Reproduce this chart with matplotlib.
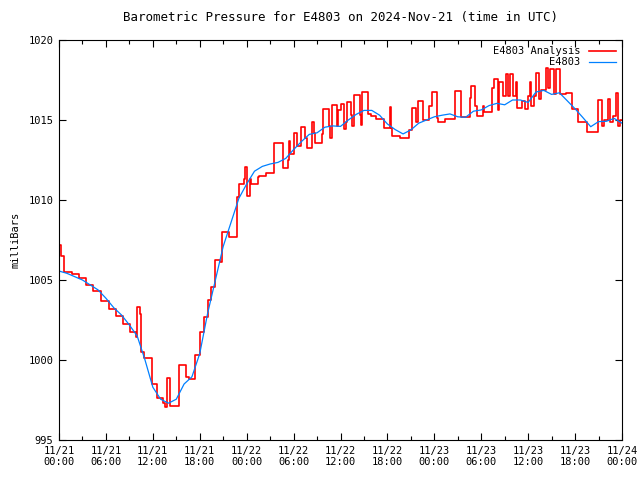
import matplotlib
matplotlib.use('Agg')
import matplotlib.pyplot as plt
import numpy as np

# hours since 2024-11-21 00:00 UTC
hours = np.arange(0, 73)

# E4803 observations (mb), hourly readings
obs = [1005.56, 1005.42, 1005.21, 1005.0, 1004.69, 1004.38, 1003.86, 1003.27, 1002.81, 1002.19,
       1001.5, 1000.0, 998.3, 997.55, 997.3, 997.55, 998.5, 998.95, 1000.4, 1002.9,
       1005.0, 1007.1, 1008.6, 1010.1, 1011.0, 1011.8, 1012.1, 1012.25, 1012.35, 1012.6,
       1013.15, 1013.65, 1014.1, 1014.2, 1014.55, 1014.63, 1014.6, 1015.0, 1015.35, 1015.6,
       1015.6, 1015.3, 1014.75, 1014.4, 1014.13, 1014.38, 1014.8, 1015.0, 1015.2, 1015.3,
       1015.38, 1015.2, 1015.17, 1015.55, 1015.63, 1015.9, 1016.04, 1015.95, 1016.25, 1016.25,
       1016.1, 1016.75, 1016.85, 1016.6, 1016.7, 1016.2, 1015.7, 1015.15, 1014.58, 1014.9,
       1014.92, 1015.1, 1014.8]

# E4803 analysis (mb): times (hours) where the value changes, and the value held after
ana_hours = [0.0, 0.3, 0.6, 1.6, 2.5, 3.4, 4.4, 5.4, 6.4, 7.3,
             8.2, 9.1, 9.8, 9.95, 10.3, 10.5, 10.9, 11.9, 12.5, 13.3,
             13.5, 13.8, 14.2, 15.4, 16.3, 16.6, 17.4, 18.0, 18.6, 19.0,
             19.5, 20.0, 20.6, 20.9, 21.8, 22.7, 23.0, 23.7, 23.85, 24.0,
             24.4, 24.6, 25.4, 25.6, 26.5, 27.5, 28.6, 29.3, 29.45, 29.6,
             30.0, 30.4, 30.9, 31.5, 31.7, 32.3, 32.6, 32.8, 33.6, 33.8,
             34.5, 34.7, 34.9, 35.6, 35.7, 36.0, 36.4, 36.7, 36.8, 37.4,
             37.5, 37.7, 38.5, 38.6, 38.8, 39.5, 39.9, 40.6, 41.6, 42.3,
             42.45, 42.6, 43.6, 44.8, 45.1, 45.6, 45.9, 46.5, 47.3, 47.7,
             48.3, 48.5, 49.4, 50.6, 51.4, 52.6, 52.7, 53.2, 53.4, 54.2,
             54.3, 55.4, 55.6, 56.1, 56.3, 56.8, 57.2, 57.4, 57.7, 58.0,
             58.4, 58.6, 59.2, 59.6, 60.0, 60.2, 60.4, 60.7, 61.0, 61.4,
             61.6, 62.3, 62.6, 62.8, 63.3, 63.6, 64.1, 64.9, 65.6, 66.4,
             67.5, 68.9, 69.5, 69.7, 70.2, 70.5, 70.9, 71.2, 71.5, 71.7,
             72.0]
ana = [1007.2, 1006.5, 1005.52, 1005.35, 1005.1, 1004.69, 1004.31, 1003.69, 1003.2, 1002.75,
       1002.23, 1001.77, 1001.45, 1003.33, 1002.9, 1000.52, 1000.14, 998.48, 997.6, 997.3,
       997.08, 998.85, 997.13, 999.69, 998.96, 998.81, 1000.31, 1001.77, 1002.7, 1003.75,
       1004.58, 1006.25, 1006.1, 1008.02, 1007.71, 1010.21, 1011.0, 1011.3, 1012.08, 1010.25,
       1011.3, 1011.0, 1011.46, 1011.5, 1011.67, 1013.54, 1011.98, 1012.5, 1013.7, 1012.9,
       1014.17, 1013.4, 1014.58, 1013.9, 1013.23, 1014.9, 1014.2, 1013.54, 1014.1, 1015.67,
       1014.6, 1013.9, 1015.94, 1014.6, 1015.6, 1016.0, 1014.42, 1014.9, 1016.15, 1015.3,
       1014.6, 1016.56, 1015.3, 1014.7, 1016.77, 1015.4, 1015.25, 1015.04, 1014.48, 1015.8,
       1014.48, 1014.0, 1013.85, 1014.4, 1015.73, 1014.9, 1016.21, 1015.0, 1015.9, 1016.73,
       1015.1, 1014.9, 1015.04, 1016.81, 1015.2, 1016.4, 1017.13, 1015.9, 1015.25, 1015.9,
       1015.52, 1017.0, 1017.54, 1015.6, 1017.4, 1016.5, 1017.88, 1016.5, 1017.9, 1016.5,
       1017.4, 1015.73, 1016.2, 1015.67, 1016.5, 1017.4, 1015.9, 1016.5, 1017.96, 1016.3,
       1016.88, 1018.23, 1017.0, 1018.2, 1016.6, 1018.2, 1016.6, 1016.67, 1015.67, 1014.9,
       1014.27, 1016.25, 1014.6, 1015.0, 1016.3, 1014.9, 1015.25, 1016.71, 1014.6, 1015.0,
       1015.0]

tick_hours = np.arange(0, 73, 6)
tick_labels = ['11/21\n00:00', '11/21\n06:00', '11/21\n12:00', '11/21\n18:00',
               '11/22\n00:00', '11/22\n06:00', '11/22\n12:00', '11/22\n18:00',
               '11/23\n00:00', '11/23\n06:00', '11/23\n12:00', '11/23\n18:00',
               '11/24\n00:00']

plt.rcParams['font.family'] = 'DejaVu Sans Mono'
plt.rcParams['font.size'] = 7.5

fig = plt.figure(figsize=(6.4, 4.8), dpi=100)
ax = fig.add_axes([59 / 640, 40 / 480, 563 / 640, 400 / 480])

ax.plot(ana_hours, ana, color='red', lw=1.2, drawstyle='steps-post', label='E4803 Analysis')
ax.plot(hours, obs, color='#0080ff', lw=0.9, label='E4803')

ax.set_xlim(0, 72)
ax.set_ylim(995, 1020)
ax.set_xticks(tick_hours)
ax.set_xticklabels(tick_labels)
ax.set_xticks(np.arange(0, 73, 3), minor=True)
ax.set_yticks(np.arange(995, 1021, 5))
ax.tick_params(which='both', direction='in', top=True, right=True, width=0.8)
ax.tick_params(which='major', length=5, pad=4)
ax.tick_params(which='minor', length=3)
for s in ax.spines.values():
    s.set_linewidth(0.8)

ax.set_ylabel('milliBars', labelpad=6)
ax.set_title('Barometric Pressure for E4803 on 2024-Nov-21 (time in UTC)', pad=14)

ax.legend(loc='upper right', frameon=False, markerfirst=False, handlelength=2.6,
          borderaxespad=0.2, labelspacing=0.1, handletextpad=0.8)

fig.savefig('out.png', dpi=100)
